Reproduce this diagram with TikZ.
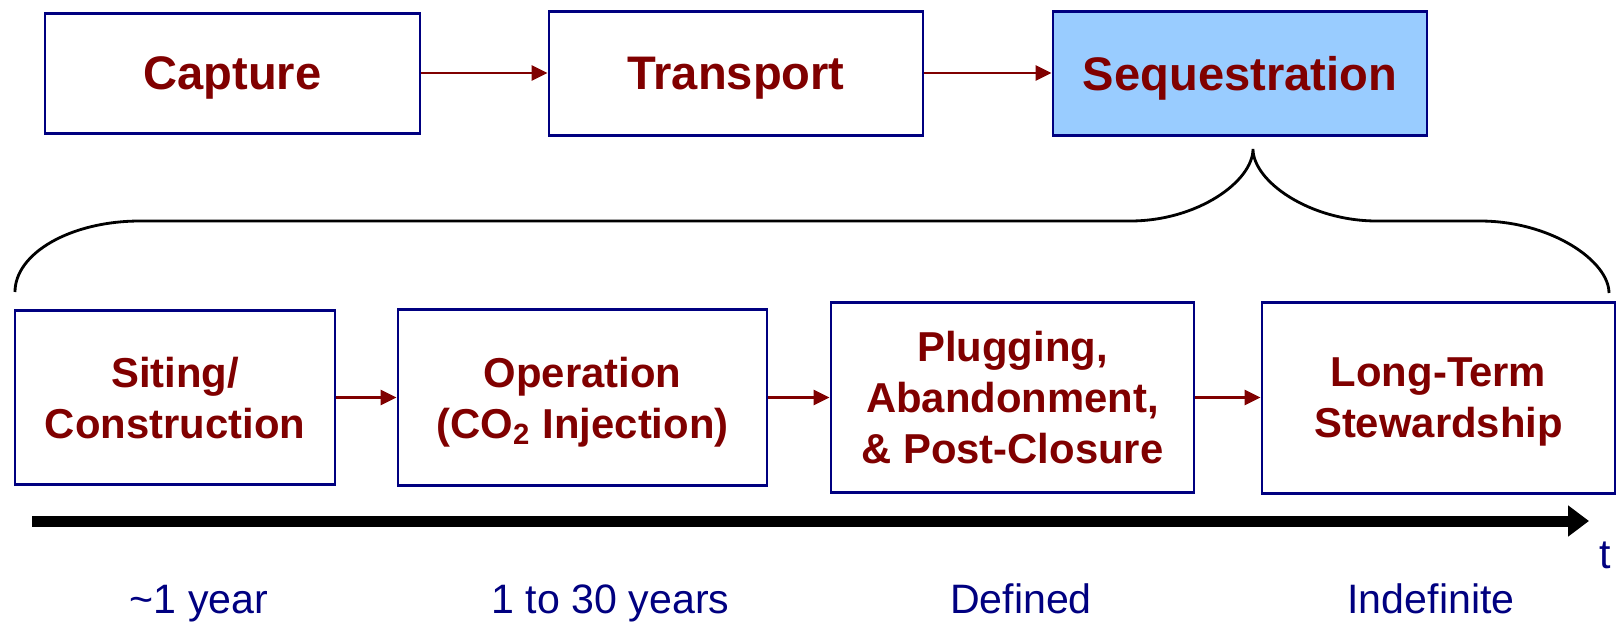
\documentclass[tikz,border=0pt]{standalone}
\usepackage{fontspec}
\setmainfont{Liberation Sans}
\usetikzlibrary{arrows.meta}
\definecolor{darkred}{RGB}{128,0,0}
\definecolor{navyblue}{RGB}{0,0,128}
\definecolor{skyblue}{RGB}{153,204,255}

\begin{document}
\begin{tikzpicture}[
	stage/.style={draw=navyblue, line width=0.85pt, text=darkred, font=\bfseries\fontsize{13.4}{16}\selectfont, text depth=0pt, minimum width=3.75cm, minimum height=1.22cm},
	phase/.style={draw=navyblue, line width=0.85pt, text=darkred, font=\bfseries\fontsize{11.9}{14.5}\selectfont, align=center, text depth=0pt},
	flow/.style={draw=darkred, line width=0.65pt, -{Triangle[length=4.5pt,width=4.3pt]}},
	span/.style={text=navyblue, font=\fontsize{11.7}{14}\selectfont, anchor=base}
	]
	\useasboundingbox (0,0) rectangle (16.21,-6.23);
	\def\ytop{-0.73};
	\def\ybot{-3.975};

	% chain
	\node[stage, minimum height=1.20cm] (capture) at (2.325,\ytop) {Capture};
	\node[stage, minimum width=3.74cm, minimum height=1.24cm] (transport) at (7.36,\ytop) {Transport};
	\node[stage, fill=skyblue, minimum width=3.74cm, minimum height=1.24cm] (seq) at (12.40,\ytop) {Sequestration};
	\draw[flow] (capture) -- (transport);
	\draw[flow] (transport) -- (seq);

	% brace
	\draw[line width=0.8pt] (0.15,-2.92) .. controls (0.15,-2.53) and (0.71,-2.21) .. (1.40,-2.21) -- (11.30,-2.21)
		.. controls (11.98,-2.21) and (12.53,-1.81) .. (12.53,-1.49)
		.. controls (12.53,-1.81) and (13.09,-2.21) .. (13.77,-2.21) -- (14.80,-2.21)
		.. controls (15.51,-2.21) and (16.09,-2.61) .. (16.09,-2.93);

	% phases
	\node[phase, minimum width=3.20cm, minimum height=1.74cm] (siting) at (1.75,\ybot) {Siting/\\Construction};
	\node[phase, minimum width=3.69cm, minimum height=1.76cm] (operation) at (5.825,\ybot) {Operation\\(CO\textsubscript{2} Injection)};
	\node[phase, minimum width=3.63cm, minimum height=1.90cm] (plugging) at (10.125,\ybot) {Plugging,\\Abandonment,\\\& Post-Closure};
	\node[phase, minimum width=3.53cm, minimum height=1.91cm] (longterm) at (14.385,\ybot) {Long-Term\\Stewardship};
	\draw[flow] (siting) -- (operation);
	\draw[flow] (operation) -- (plugging);
	\draw[flow] (plugging) -- (longterm);

	% time axis
	\coordinate (tstart) at (0.32,-5.21);
	\coordinate (tend) at (15.89,-5.21);
	\draw[line width=0.11cm, -{Triangle[length=0.21cm,width=0.30cm]}] (tstart) -- (tend);
	\node[span] (tlabel) at (16.05,-5.68) {t};

	\node[span] (dur1) at (1.99,-6.135) {\textasciitilde1 year};
	\node[span] (dur2) at (6.105,-6.135) {1 to 30 years};
	\node[span] (dur3) at (10.21,-6.135) {Defined};
	\node[span] (dur4) at (14.31,-6.135) {Indefinite};
\end{tikzpicture}
\end{document}
